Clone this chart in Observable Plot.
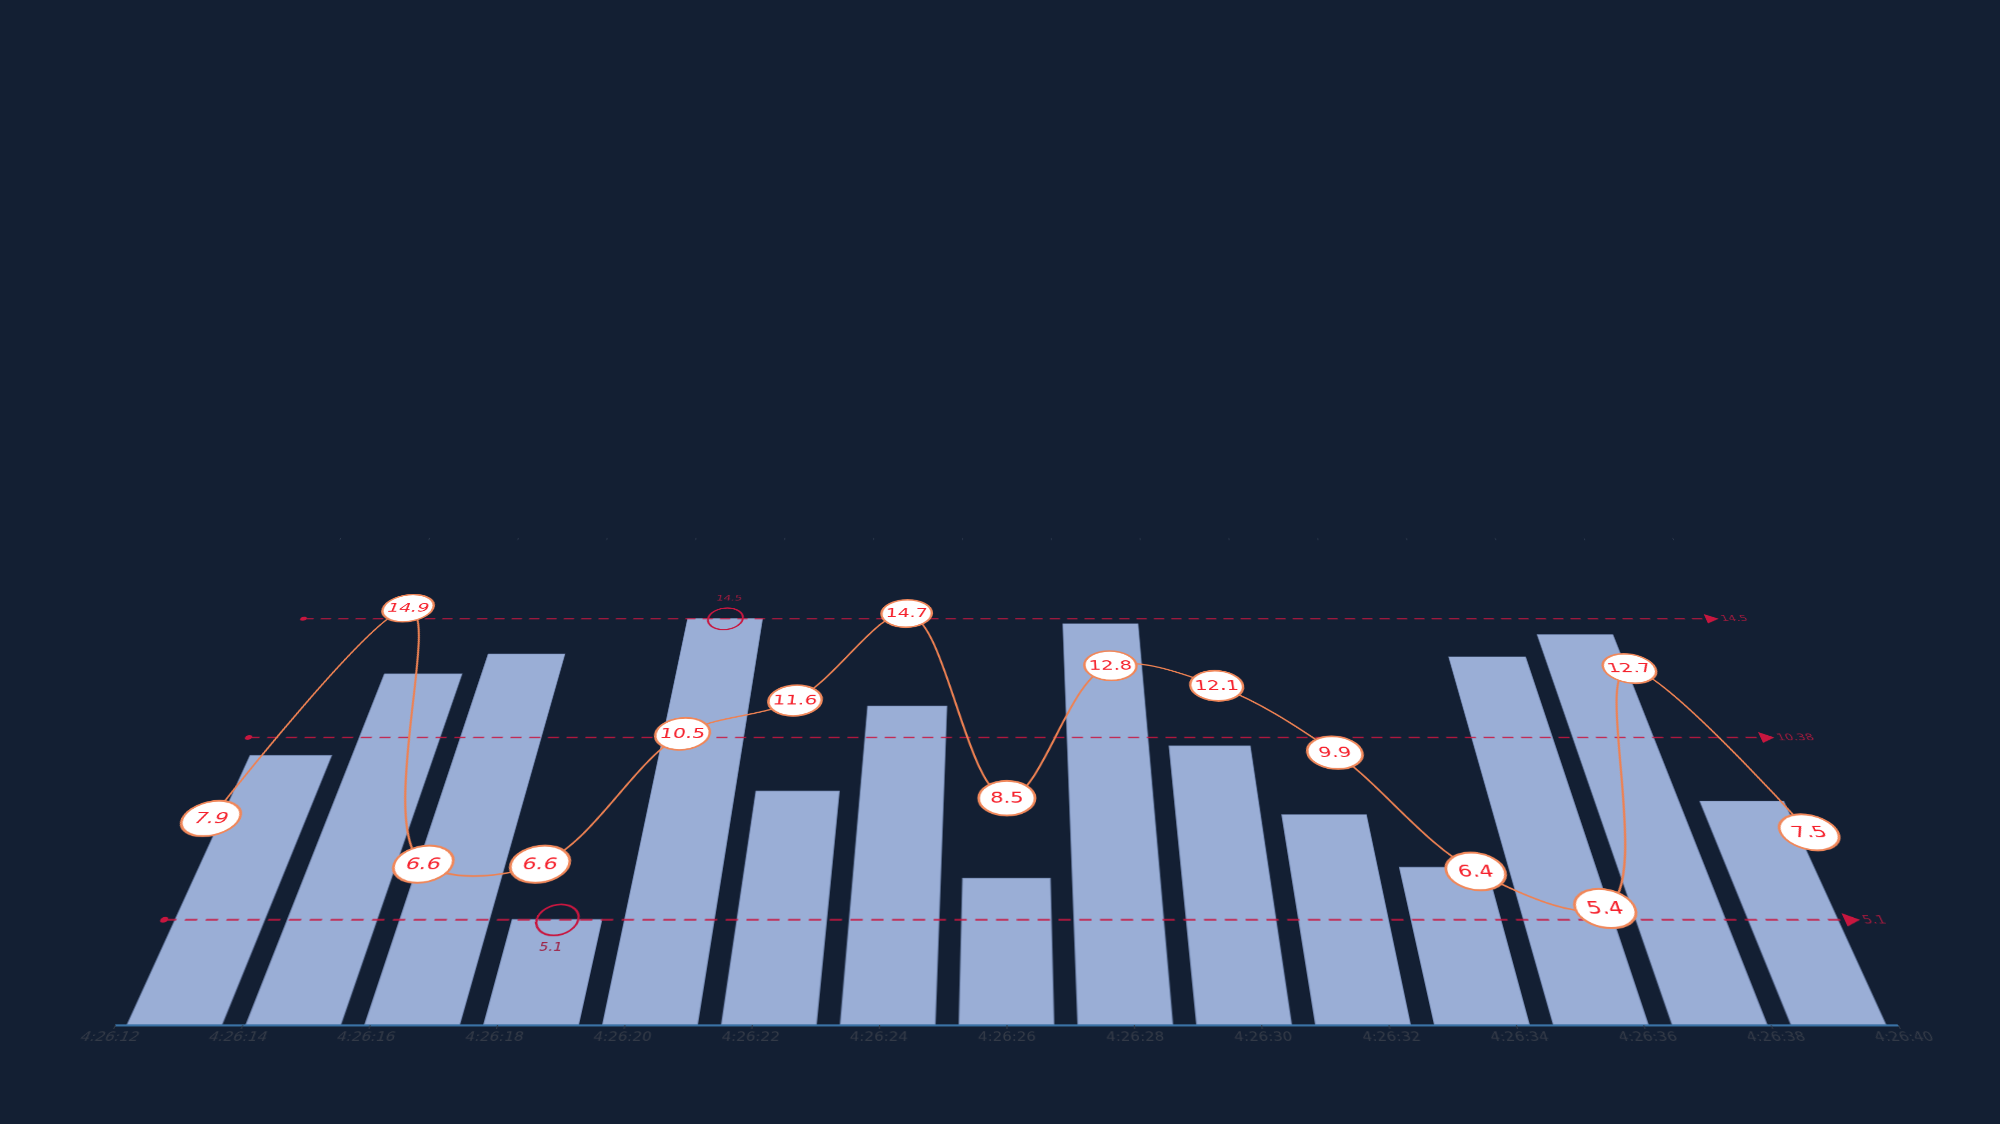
<!DOCTYPE html>
<html lang="en">
<head>
<meta charset="utf-8">
<title>Bars and line, tilted</title>

<script src="https://cdn.jsdelivr.net/npm/d3@7"></script>
<script src="https://cdn.jsdelivr.net/npm/@observablehq/plot@0.6"></script>

<style>
  html, body {
    margin: 0;
    padding: 0;
    background: #131f33;
    overflow: hidden;
  }

  /* the chart is drawn flat, then leaned back in 3D */
  #stage {
    position: absolute;
    left: 0;
    top: 0;
    width: 2000px;
    height: 1124px;
    perspective: 1504px;
    perspective-origin: 1006px 1025px;
  }

  #tilt {
    position: absolute;
    left: 0;
    top: 0;
    width: 2000px;
    height: 1124px;
    transform: rotateX(38deg);
    transform-origin: 1006px 1025px;
  }

  #tilt svg {
    position: absolute;
    left: 0;
    top: 0;
  }
</style>
</head>

<body>
  <div id="stage"><div id="tilt"></div></div>

<script>
  const categories = ["1", "2", "3", "4", "5", "6", "7", "8", "9", "10", "11", "12", "13", "14", "15"];
  const barValues = [9.8, 12.5, 13.2, 5.1, 14.5, 8.7, 11.4, 6.2, 14.3, 10.1, 8.0, 6.5, 13.1, 13.9, 8.4];

  const timeLabels = ["4:26:12", "4:26:14", "4:26:16", "4:26:18", "4:26:20", "4:26:22", "4:26:24", "4:26:26",
                      "4:26:28", "4:26:30", "4:26:32", "4:26:34", "4:26:36", "4:26:38", "4:26:40"];
  const lineValues = [7.9, 14.9, 6.6, 6.6, 10.5, 11.6, 14.7, 8.5, 12.8, 12.1, 9.9, 6.4, 5.4, 12.7, 7.5];

  const yDomain = [2.5, 17.6];

  const markRed = "#c8163f";
  const markText = "#9e1a3d";

  const bars = categories.map((c, i) => ({i, name: c, value: barValues[i]}));
  const maxBar = bars[d3.maxIndex(barValues)];
  const minBar = bars[d3.minIndex(barValues)];
  const refLines = [
    {value: d3.max(barValues)},
    {value: +d3.mean(barValues).toFixed(2)},
    {value: d3.min(barValues)}
  ];

  const parseTime = d3.utcParse("%H:%M:%S");
  const points = timeLabels.map((t, i) => ({time: parseTime(t), value: lineValues[i]}));

  // label bubble: a slightly flattened ellipse
  const ellipse = {
    draw(ctx, size) {
      const rx = Math.sqrt(size / Math.PI), ry = rx * 0.88, k = 0.5523;
      ctx.moveTo(rx, 0);
      ctx.bezierCurveTo(rx, k * ry, k * rx, ry, 0, ry);
      ctx.bezierCurveTo(-k * rx, ry, -rx, k * ry, -rx, 0);
      ctx.bezierCurveTo(-rx, -k * ry, -k * rx, -ry, 0, -ry);
      ctx.bezierCurveTo(k * rx, -ry, rx, -k * ry, rx, 0);
      ctx.closePath();
    }
  };

  const common = {
    width: 2000,
    height: 1124,
    marginLeft: 115,
    marginRight: 102,
    marginTop: 202,
    marginBottom: 99,
    style: {background: "transparent", fontFamily: "'DejaVu Sans', sans-serif", overflow: "visible"},
    y: {domain: yDomain, axis: null}
  };

  const barChart = Plot.plot({
    ...common,
    x: {domain: [0, categories.length], axis: null},
    marks: [
      Plot.axisX(d3.range(categories.length + 1), {anchor: "top", tickSize: 6, tickFormat: () => "", stroke: "#2e3a4e", label: null}),
      Plot.rectY(bars, {x1: "i", x2: d => d.i + 1, y1: yDomain[0], y2: "value", insetLeft: 12, insetRight: 12,
                        fill: "#9aaed6", stroke: "#7b90bb", strokeWidth: 1}),
      Plot.link(refLines, {x1: 0, x2: categories.length, y1: "value", y2: "value",
                           stroke: markRed, strokeWidth: 2.5, strokeDasharray: "13,9", strokeOpacity: 0.85}),
      Plot.dot(refLines, {x: 0, y: "value", r: 4, fill: markRed}),
      Plot.dot(refLines, {x: categories.length, y: "value", symbol: "triangle", rotate: 90, r: 7, fill: markRed}),
      Plot.text(refLines, {x: categories.length, y: "value", text: "value", dx: 14, textAnchor: "start",
                           fill: markText, fontSize: 15}),
      Plot.dot([maxBar, minBar], {x: d => d.i + 0.5, y: "value", r: 22, fill: "none", stroke: markRed, strokeWidth: 2.5}),
      Plot.text([maxBar], {x: d => d.i + 0.5, y: "value", text: "value", dy: -42, fill: markText, fontSize: 15}),
      Plot.text([minBar], {x: d => d.i + 0.5, y: "value", text: "value", dy: 38, fill: markText, fontSize: 15})
    ]
  });

  const lineChart = Plot.plot({
    ...common,
    x: {type: "utc", domain: d3.extent(points, d => d.time), axis: null},
    marks: [
      Plot.ruleY([yDomain[0]], {stroke: "#3b74a9", strokeWidth: 2.5}),
      Plot.axisX(points.map(d => d.time), {anchor: "bottom", tickFormat: d3.utcFormat("%-H:%M:%S"), tickSize: 5,
                                          fontSize: 15, color: "#333a47", label: null}),
      Plot.line(points, {x: "time", y: "value", curve: "catmull-rom", stroke: "#ee8152", strokeWidth: 2.5}),
      Plot.dot(points, {x: "time", y: "value", symbol: ellipse, r: 32, fill: "white", stroke: "#f0875a", strokeWidth: 3}),
      Plot.text(points, {x: "time", y: "value", text: "value", fill: "#f5222d", fontSize: 24})
    ]
  });

  const tilt = document.getElementById("tilt");
  tilt.appendChild(barChart);
  tilt.appendChild(lineChart);
</script>
</body>
</html>
